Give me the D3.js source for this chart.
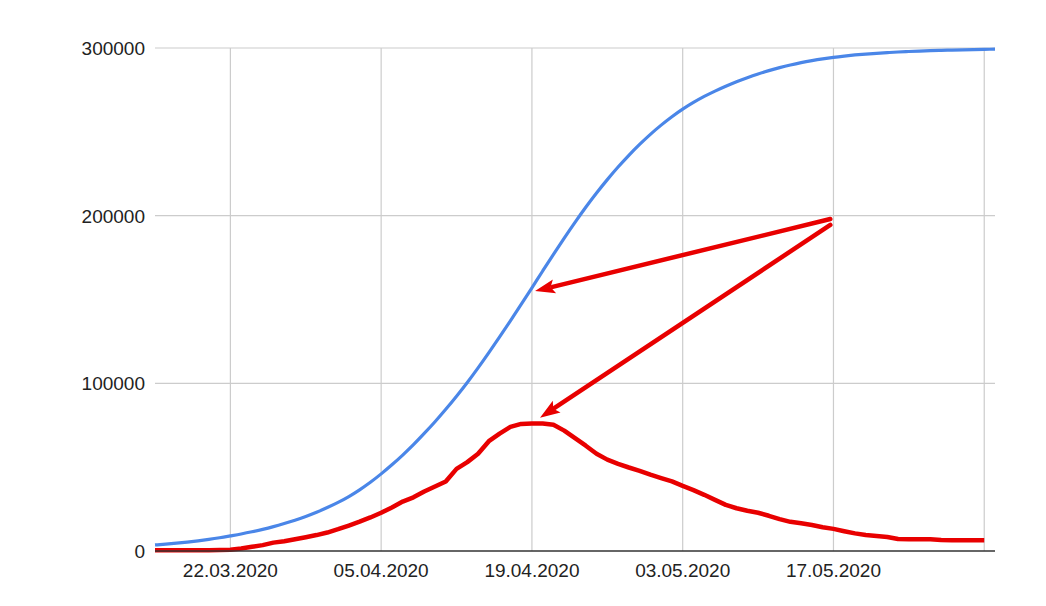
<!DOCTYPE html>
<html>
<head>
<meta charset="utf-8">
<script src="https://cdn.jsdelivr.net/npm/d3@7"></script>
<style>
  html, body { margin: 0; padding: 0; background: #fff; }
  svg { display: block; }
  text { font-family: Arial, "Liberation Sans", sans-serif; fill: #222; }
</style>
</head>
<body>
<svg id="chart" width="1046" height="606"></svg>
<script>
// ---- data ----
const startDate = "2020-03-15";
const endDate = "2020-06-01";

// cumulative (blue), one value per day from 15.03.2020
const cumulative = [
  3600, 4100, 4680, 5330, 6080, 6930, 7900, 9000, 10150, 11450,
  12900, 14550, 16400, 18400, 20600, 23100, 25900, 29000, 32500, 36500,
  41000, 46000, 51400, 57200, 63400, 70100, 77100, 84500, 92300, 100500,
  109200, 118300, 127700, 137300, 147100, 157000, 167000, 176900, 186600, 196000,
  205000, 213500, 221500, 229000, 236000, 242500, 248500, 254000, 259000, 263500,
  267500, 271100, 274300, 277200, 279900, 282300, 284500, 286500, 288300, 289900,
  291300, 292500, 293550, 294450, 295200, 295850, 296400, 296850, 297250, 297600,
  297900, 298160, 298390, 298590, 298770, 298930, 299070, 299190, 299300
];

// active (red), one value per day from 15.03.2020
const active = [
  500, 500, 500, 500, 500, 500, 600, 700, 1500, 2500,
  3500, 5000, 5800, 7000, 8200, 9500, 11000, 13000, 15200, 17500,
  20000, 22800, 26000, 29500, 32000, 35500, 38500, 41500, 49000, 53000,
  58000, 65500, 70000, 74000, 75800, 76000, 76000, 75300, 71800, 67300,
  62800, 58000, 54500, 52000, 49800, 47800, 45500, 43500, 41500, 38800,
  36300, 33500, 30500, 27500, 25500, 24000, 22800, 21000, 19000, 17400,
  16500, 15500, 14200, 13200, 11800, 10500, 9500, 9000, 8400, 7200,
  7000, 7000, 7000, 6600, 6400, 6400, 6400, 6400
];

const yTicks = [0, 100000, 200000, 300000];
const xTickDates = ["2020-03-22", "2020-04-05", "2020-04-19", "2020-05-03", "2020-05-17", "2020-05-31"];
const xTickLabels = ["22.03.2020", "05.04.2020", "19.04.2020", "03.05.2020", "17.05.2020", ""];

// annotation arrows: from (date, value) to (date, value)
const arrowFromDates = ["2020-05-16T17:00", "2020-05-16T17:00"];
const arrowFromValues = [198000, 194500];
const arrowToDates = ["2020-04-19T07:00", "2020-04-19T18:00"];
const arrowToValues = [155000, 79500];

// ---- chart ----
(function () {
const parse = d3.utcParse("%Y-%m-%d");
const parseT = d3.utcParse("%Y-%m-%dT%H:%M");
const svg = d3.select("#chart");
const mLeft = 155, mRight = 995, mTop = 48, mBottom = 551;

const x = d3.scaleUtc().domain([parse(startDate), parse(endDate)]).range([mLeft, mRight]);
const y = d3.scaleLinear().domain([0, 300000]).range([mBottom, mTop]);

const dayDate = i => d3.utcDay.offset(parse(startDate), i);

// horizontal gridlines
svg.append("g").selectAll("line").data(yTicks.filter(v => v !== 0)).join("line")
  .attr("x1", mLeft).attr("x2", mRight)
  .attr("y1", d => y(d)).attr("y2", d => y(d))
  .attr("stroke", "#cccccc").attr("stroke-width", 1.2);

// vertical gridlines
svg.append("g").selectAll("line").data(xTickDates).join("line")
  .attr("x1", d => x(parse(d))).attr("x2", d => x(parse(d)))
  .attr("y1", mTop).attr("y2", mBottom)
  .attr("stroke", "#cccccc").attr("stroke-width", 1.2);

// y labels
svg.append("g").selectAll("text").data(yTicks).join("text")
  .attr("x", 145).attr("y", d => y(d)).attr("dy", "0.36em")
  .attr("text-anchor", "end").attr("font-size", 19)
  .text(d => d);

// x labels
svg.append("g").selectAll("text").data(xTickDates).join("text")
  .attr("x", d => x(parse(d))).attr("y", 577)
  .attr("text-anchor", "middle").attr("font-size", 19)
  .text((d, i) => xTickLabels[i]);

// blue line
svg.append("path").datum(cumulative)
  .attr("d", d3.line().x((d, i) => x(dayDate(i))).y(d => y(d)).curve(d3.curveMonotoneX))
  .attr("fill", "none").attr("stroke", "#4a86e8").attr("stroke-width", 3.2);

// red line
svg.append("path").datum(active)
  .attr("d", d3.line().x((d, i) => x(dayDate(i))).y(d => y(d)))
  .attr("fill", "none").attr("stroke", "#e80000").attr("stroke-width", 4.5)
  .attr("stroke-linejoin", "round").attr("stroke-linecap", "butt");

// baseline
svg.append("line")
  .attr("x1", mLeft).attr("x2", mRight).attr("y1", y(0)).attr("y2", y(0))
  .attr("stroke", "#333").attr("stroke-width", 1.5);

// arrows
const headLen = 20, headHalf = 7;
arrowFromDates.forEach((fd, i) => {
  const x1 = x(parseT(fd)), y1 = y(arrowFromValues[i]);
  const x2 = x(parseT(arrowToDates[i])), y2 = y(arrowToValues[i]);
  const dx = x2 - x1, dy = y2 - y1, len = Math.hypot(dx, dy);
  const ux = dx / len, uy = dy / len;
  const bx = x2 - ux * headLen, by = y2 - uy * headLen;
  svg.append("line")
    .attr("x1", x1).attr("y1", y1)
    .attr("x2", x2 - ux * (headLen - 2)).attr("y2", y2 - uy * (headLen - 2))
    .attr("stroke", "#e80000").attr("stroke-width", 4.5).attr("stroke-linecap", "round");
  svg.append("polygon")
    .attr("points", [
      [x2, y2],
      [bx - uy * headHalf, by + ux * headHalf],
      [bx + ux * 4, by + uy * 4],
      [bx + uy * headHalf, by - ux * headHalf]
    ].map(p => p.join(",")).join(" "))
    .attr("fill", "#e80000");
});
})();
</script>
</body>
</html>
